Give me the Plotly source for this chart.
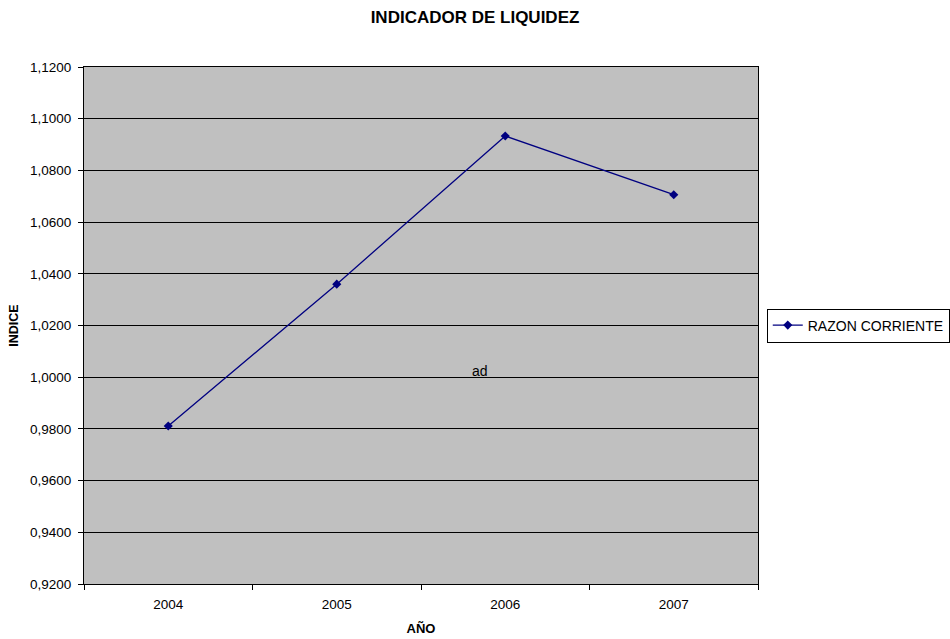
import plotly.graph_objects as go

years = ["2004", "2005", "2006", "2007"]
razon_corriente = [0.9811, 1.0360, 1.0933, 1.0706]
y_ticks = [0.92, 0.94, 0.96, 0.98, 1.00, 1.02, 1.04, 1.06, 1.08, 1.10, 1.12]
y_tick_labels = ["0,9200", "0,9400", "0,9600", "0,9800", "1,0000", "1,0200",
                 "1,0400", "1,0600", "1,0800", "1,1000", "1,1200"]

fig = go.Figure()
fig.add_trace(go.Scatter(
    x=years, y=razon_corriente, mode="lines+markers", name="RAZON CORRIENTE",
    line=dict(color="#000080", width=1.3),
    marker=dict(symbol="diamond", size=7, color="#000080"),
))

font = "Liberation Sans, Arial, sans-serif"
fig.update_layout(
    width=950, height=639,
    margin=dict(l=84, r=192, t=67, b=55, autoexpand=False),
    paper_bgcolor="white", plot_bgcolor="#C0C0C0",
    font=dict(family=font, size=13.5, color="black"),
    title=dict(text="<b>INDICADOR DE LIQUIDEZ</b>", x=475 / 950, xref="container",
               xanchor="center", y=1 - 17 / 639, yref="container", yanchor="middle",
               font=dict(size=17, family=font, color="black")),
    showlegend=True,
    legend=dict(x=1.013, xanchor="left", y=0.5, yanchor="middle", itemwidth=30,
                bordercolor="black", borderwidth=1, bgcolor="white",
                font=dict(size=14, family=font)),
    xaxis=dict(type="category", range=[-0.5, 3.5], tickson="boundaries",
               ticks="outside", ticklen=5,
               tickcolor="black", showgrid=False, showline=True, linecolor="black",
               linewidth=1, mirror=True, ticklabelstandoff=8, automargin=False,
               title=dict(text="<b>AÑO</b>", font=dict(size=13), standoff=12)),
    yaxis=dict(range=[0.92, 1.12], tickvals=y_ticks, ticktext=y_tick_labels,
               ticks="outside", ticklen=5, tickcolor="black",
               showgrid=True, gridcolor="black", gridwidth=1,
               showline=True, linecolor="black", linewidth=1, mirror=True,
               zeroline=False, ticklabelstandoff=4, automargin=False,
               title=dict(text="<b>INDICE</b>", font=dict(size=12.5), standoff=8)),
    annotations=[dict(text="ad", xref="paper", yref="y", x=(480 - 84) / 674, y=1.0023,
                      showarrow=False, font=dict(size=14, family=font))],
)

fig.write_html(
    "out.html",
    config={"displayModeBar": False},
    post_script="document.body.style.margin='0';document.body.style.overflow='hidden';",
)
